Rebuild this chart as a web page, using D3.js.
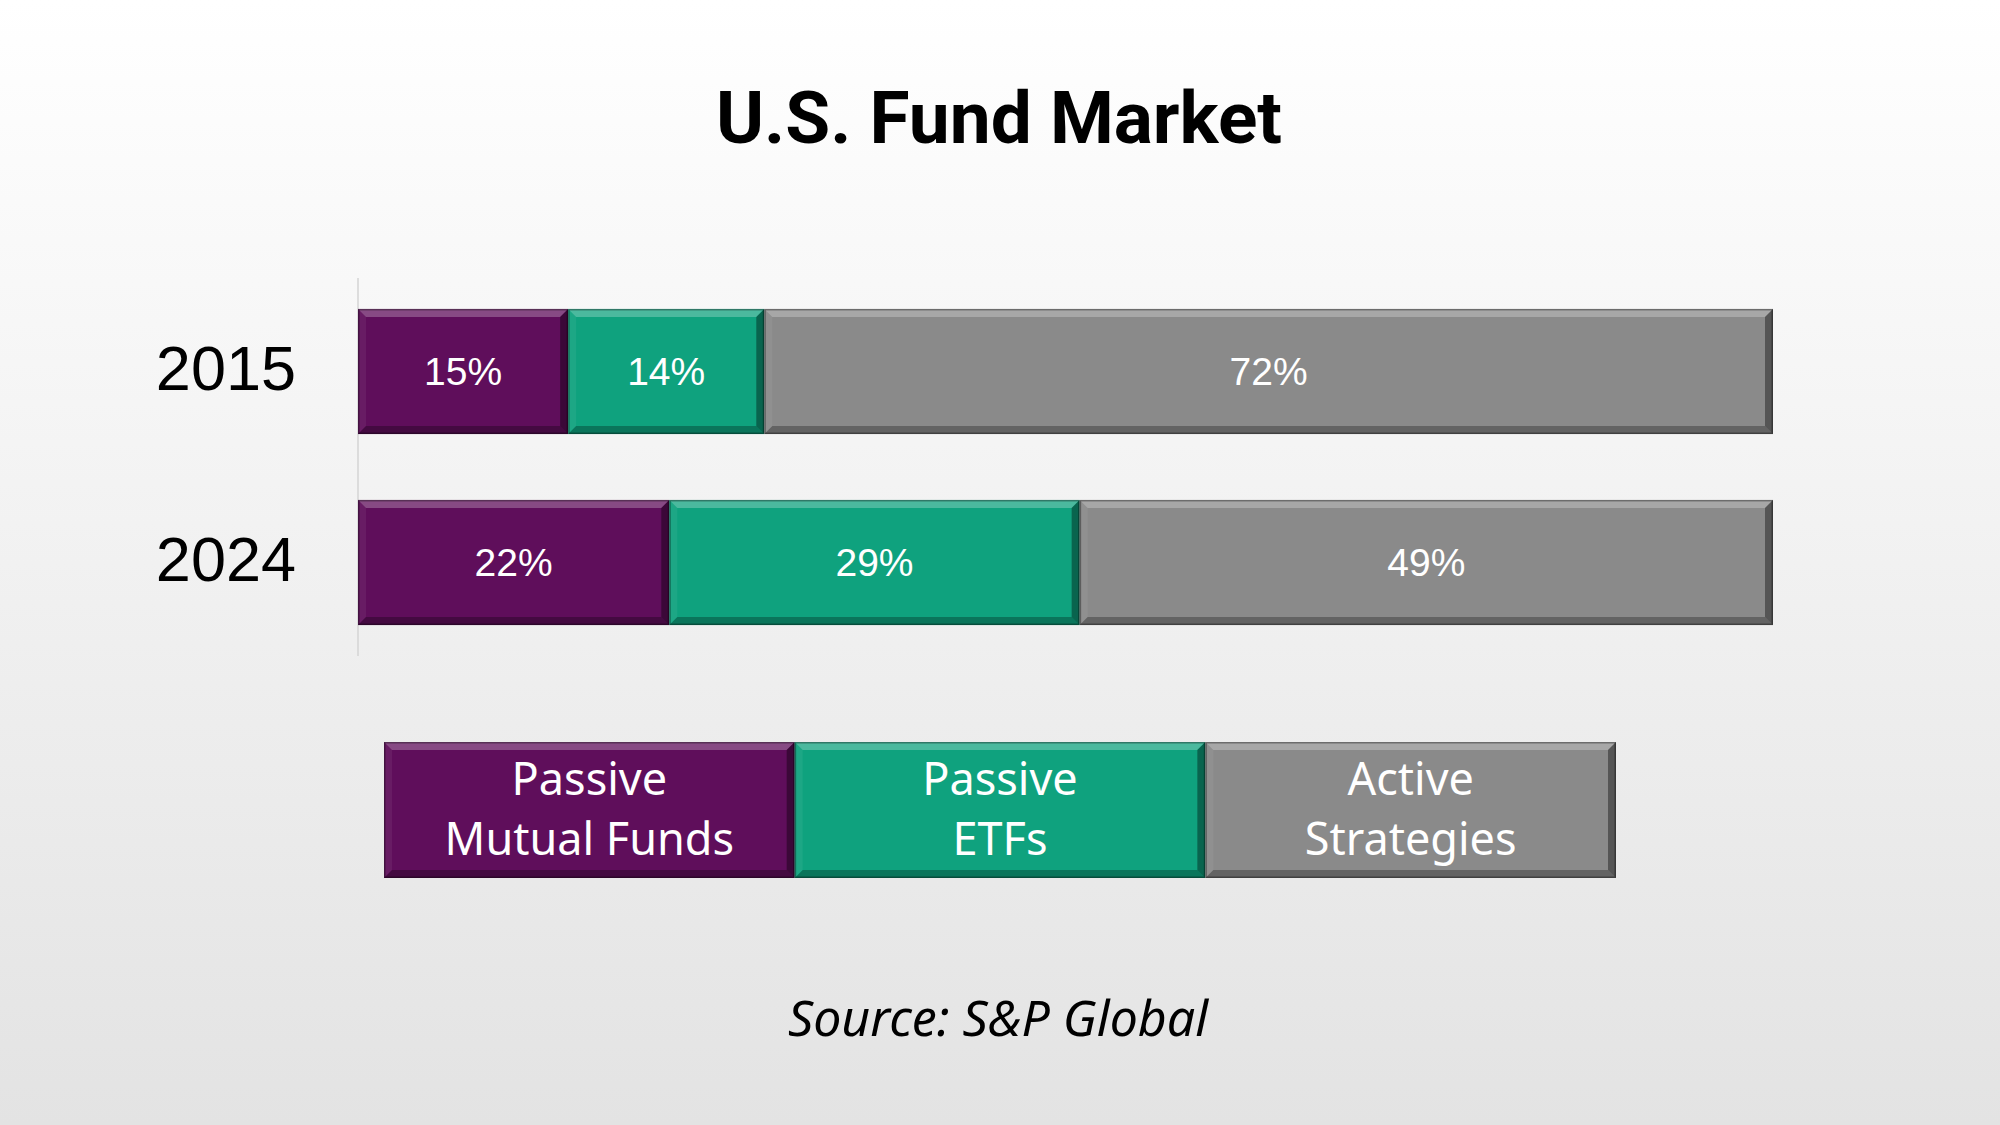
<!DOCTYPE html>
<html lang="en">
<head>
<meta charset="UTF-8">
<title>U.S. Fund Market</title>
<style>
    body { margin: 0; background: #fff; }
</style>
</head>
<body>
<script src="https://cdn.jsdelivr.net/npm/d3@7"></script>
<script>
    // data
    var years = ["2015", "2024"];
    var seriesNames = ["Passive Mutual Funds", "Passive ETFs", "Active Strategies"];
    var legendLines = [["Passive", "Mutual Funds"], ["Passive", "ETFs"], ["Active", "Strategies"]];
    var passiveMF = [15, 22];
    var passiveETF = [14, 29];
    var active = [72, 49];
    var colors = ["#5f0e5b", "#0fa27e", "#8a8a8a"];

    var w = 2000, h = 1125;
    var bev = 8;

    var svg = d3.select("body").append("svg")
        .attr("width", w)
        .attr("height", h);

    var defs = svg.append("defs");
    var bg = defs.append("linearGradient").attr("id", "bg")
        .attr("x1", 0).attr("y1", 0).attr("x2", 0).attr("y2", 1);
    bg.append("stop").attr("offset", "0%").attr("stop-color", "#ffffff");
    bg.append("stop").attr("offset", "100%").attr("stop-color", "#e3e3e3");

    svg.append("rect").attr("width", w).attr("height", h).attr("fill", "url(#bg)");

    // title
    svg.append("text")
        .attr("x", 999).attr("y", 143)
        .attr("text-anchor", "middle")
        .attr("font-family", "Roboto, 'Noto Sans', sans-serif")
        .attr("font-weight", "bold")
        .attr("font-size", "73px")
        .attr("fill", "#000")
        .text("U.S. Fund Market");

    // scales
    var yScale = d3.scaleBand()
        .domain(years)
        .range([278, 656])
        .paddingInner(0.345)
        .paddingOuter(0.162);
    var xScale = d3.scaleLinear()
        .domain([0, 1])
        .range([358, 1773]);

    // each row is shown as a 100% stacked bar
    var rows = years.map(function(y, i) {
        var vals = [passiveMF[i], passiveETF[i], active[i]];
        var total = d3.sum(vals);
        var acc = 0;
        return vals.map(function(v, k) {
            var seg = { year: y, value: v, k: k, x0: acc / total, x1: (acc + v) / total };
            acc += v;
            return seg;
        });
    });

    // bevelled box, like the office shape effect
    function bevelBox(g, x, y, bw, bh, color) {
        g.append("rect")
            .attr("x", x).attr("y", y).attr("width", bw).attr("height", bh)
            .attr("fill", color);
        var pts = {
            top: [[x, y], [x + bw, y], [x + bw - bev, y + bev], [x + bev, y + bev]],
            left: [[x, y], [x + bev, y + bev], [x + bev, y + bh - bev], [x, y + bh]],
            bottom: [[x, y + bh], [x + bev, y + bh - bev], [x + bw - bev, y + bh - bev], [x + bw, y + bh]],
            right: [[x + bw, y], [x + bw, y + bh], [x + bw - bev, y + bh - bev], [x + bw - bev, y + bev]]
        };
        var shade = { top: ["#fff", 0.25], left: ["#fff", 0.06], bottom: ["#000", 0.28], right: ["#000", 0.38] };
        Object.keys(pts).forEach(function(key) {
            g.append("polygon")
                .attr("points", pts[key].map(function(p) { return p.join(","); }).join(" "))
                .attr("fill", shade[key][0])
                .attr("fill-opacity", shade[key][1]);
        });
        g.append("rect")
            .attr("x", x + 0.75).attr("y", y + 0.75).attr("width", bw - 1.5).attr("height", bh - 1.5)
            .attr("fill", "none")
            .attr("stroke", "#000").attr("stroke-opacity", 0.35).attr("stroke-width", 1.5);
    }

    // axis line
    svg.append("line")
        .attr("x1", 358).attr("x2", 358)
        .attr("y1", yScale.range()[0]).attr("y2", yScale.range()[1])
        .attr("stroke", "#d4d4d4").attr("stroke-width", 1.5);

    var bars = svg.append("g");
    rows.forEach(function(row) {
        row.forEach(function(d) {
            var x = xScale(d.x0), bw = xScale(d.x1) - xScale(d.x0);
            var y = yScale(d.year), bh = yScale.bandwidth();
            bevelBox(bars, x, y, bw, bh, colors[d.k]);
            bars.append("text")
                .attr("x", x + bw / 2)
                .attr("y", y + bh / 2)
                .attr("dy", "0.34em")
                .attr("text-anchor", "middle")
                .attr("font-family", "'Liberation Sans', Arial, sans-serif")
                .attr("font-size", "39px")
                .attr("fill", "#fff")
                .text(d.value + "%");
        });
    });

    // year labels
    svg.selectAll(".year")
        .data(years)
        .enter()
        .append("text")
        .attr("class", "year")
        .attr("x", 296)
        .attr("y", function(d) { return yScale(d) + yScale.bandwidth() / 2; })
        .attr("dy", "0.3em")
        .attr("text-anchor", "end")
        .attr("font-family", "'Liberation Sans', Arial, sans-serif")
        .attr("font-size", "63px")
        .attr("fill", "#000")
        .text(function(d) { return d; });

    // legend
    var lScale = d3.scaleBand()
        .domain(seriesNames)
        .range([384, 1616]);
    var legend = svg.append("g");
    seriesNames.forEach(function(name, i) {
        var x = lScale(name), bw = lScale.bandwidth();
        bevelBox(legend, x, 742, bw, 136, colors[i]);
        legendLines[i].forEach(function(line, j) {
            legend.append("text")
                .attr("x", x + bw / 2)
                .attr("y", 795 + j * 60)
                .attr("text-anchor", "middle")
                .attr("font-family", "'Noto Sans', sans-serif")
                .attr("font-size", "45px")
                .attr("fill", "#fff")
                .text(line);
        });
    });

    // source
    svg.append("text")
        .attr("x", 998).attr("y", 1036)
        .attr("text-anchor", "middle")
        .attr("font-family", "'Noto Sans', sans-serif")
        .attr("font-style", "italic")
        .attr("font-size", "50px")
        .attr("fill", "#000")
        .text("Source: S&P Global");
</script>
</body>
</html>
